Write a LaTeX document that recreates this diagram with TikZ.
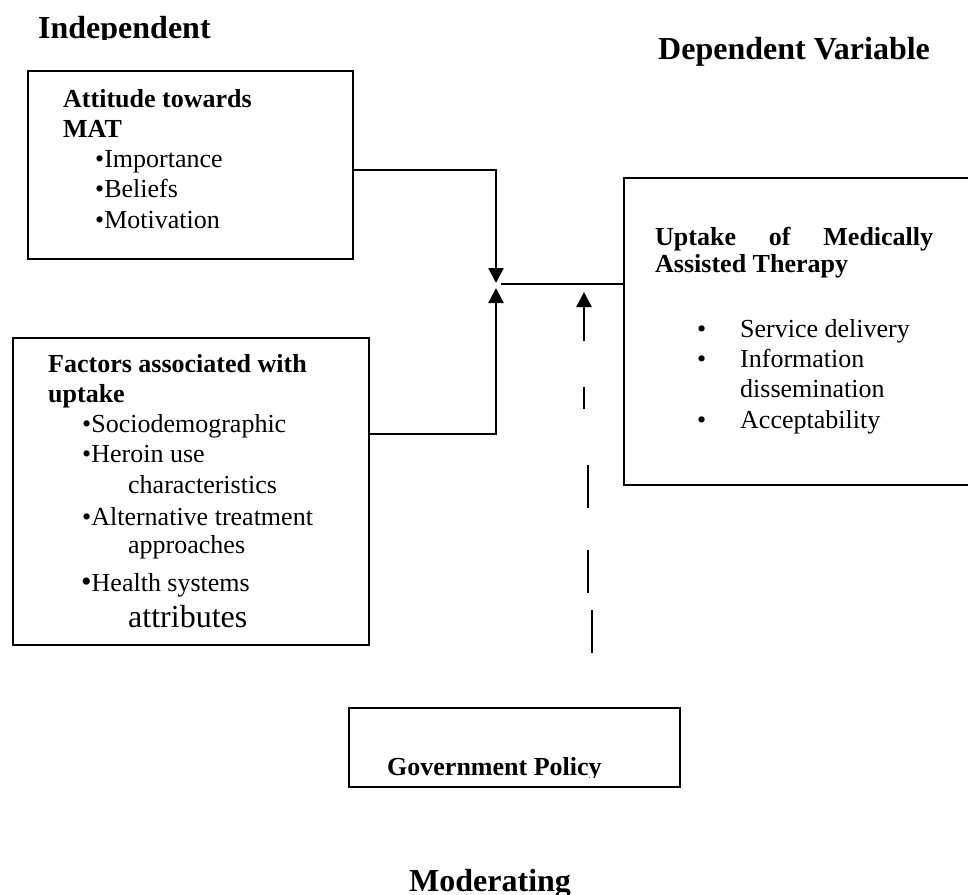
\documentclass[tikz,border=0pt]{standalone}
\usepackage{fontspec}
\setmainfont{Liberation Serif}
\usetikzlibrary{arrows.meta}
\begin{document}
\begin{tikzpicture}[x=1pt,y=-1pt,
  box/.style={draw,line width=2pt,anchor=north west,inner sep=0pt},
  txt/.style={anchor=base west,inner sep=0pt,font=\fontsize{26}{30}\selectfont},
  btxt/.style={anchor=base west,inner sep=0pt,font=\fontsize{26}{30}\selectfont\bfseries},
  head/.style={anchor=base west,inner sep=0pt,font=\fontsize{32}{36}\selectfont\bfseries},
  conn/.style={line width=2.5pt},
  arr/.style={conn,-{Triangle[width=15pt,length=15pt]}}]
\useasboundingbox (0,0) rectangle (968,894);

% headings
\begin{scope}
  \clip (0,0) rectangle (400,39.5);
  \node[head] (hind) at (38,38) {Independent};
\end{scope}
\node[head] (hdep) at (658,59) {Dependent Variable};
\node[head] (hmod) at (409,891) {Moderating};

% boxes
\node[box,minimum width=325pt,minimum height=188pt] (att) at (27,70) {};
\node[box,minimum width=356pt,minimum height=307pt] (fac) at (12,337) {};
\node[box,minimum width=357pt,minimum height=307pt] (up) at (623,177) {};
\node[box,minimum width=331pt,minimum height=79pt] (gov) at (348,707) {};

% attitude text
\node[btxt] (a1) at (63,107) {Attitude towards};
\node[btxt] (a2) at (63,137) {MAT};
\node[txt] (a3) at (95,167) {•Importance};
\node[txt] (a4) at (95,197) {•Beliefs};
\node[txt] (a5) at (95,228) {•Motivation};

% factors text
\node[btxt] (f1) at (48,372) {Factors associated with};
\node[btxt] (f2) at (48,402) {uptake};
\node[txt] (f3) at (82,432) {•Sociodemographic};
\node[txt] (f4) at (82,462) {•Heroin use};
\node[txt] (f5) at (128,493) {characteristics};
\node[txt] (f6) at (82,525) {•Alternative treatment};
\node[txt] (f7) at (128,553) {approaches};
\node[txt] (f8) at (81,591) {{\fontsize{30}{30}\selectfont •}Health systems};
\node[anchor=base west,inner sep=0pt,font=\fontsize{32}{36}\selectfont] (f9) at (128,627) {attributes};

% uptake text
\node[btxt] (u1) at (655,245) {\hbox to 278pt{Uptake\hfill of\hfill Medically}};
\node[btxt] (u2) at (655,272) {Assisted Therapy};
\node[txt] (ub1) at (697,337) {•};
\node[txt] (u3) at (740,337) {Service delivery};
\node[txt] (ub2) at (697,367) {•};
\node[txt] (u4) at (740,367) {Information};
\node[txt] (u5) at (740,397) {dissemination};
\node[txt] (ub3) at (697,428) {•};
\node[txt] (u6) at (740,428) {Acceptability};

% government text
\begin{scope}
  \clip (348,700) rectangle (679,777);
  \node[btxt] (g1) at (387,775) {Government Policy};
\end{scope}

% connectors
\coordinate (jt) at (496,283);
\coordinate (jb) at (496,288);
\coordinate (jr) at (501,284);
\draw[arr] ([yshift=-5pt]att.east) -| (jt);
\draw[arr] ([yshift=57.5pt]fac.east) -| (jb);
\draw[conn] (jr) -- (jr -| up.west);

% moderating dashed arrow
\coordinate (m0) at (584,341);
\coordinate (m1) at (584,292);
\draw[arr] (m0) -- (m1);
\draw[line width=2.3pt] (584,387) -- (584,409) (588,465) -- (588,508)
  (588,550) -- (588,593) (592,610) -- (592,653);
\end{tikzpicture}
\end{document}
